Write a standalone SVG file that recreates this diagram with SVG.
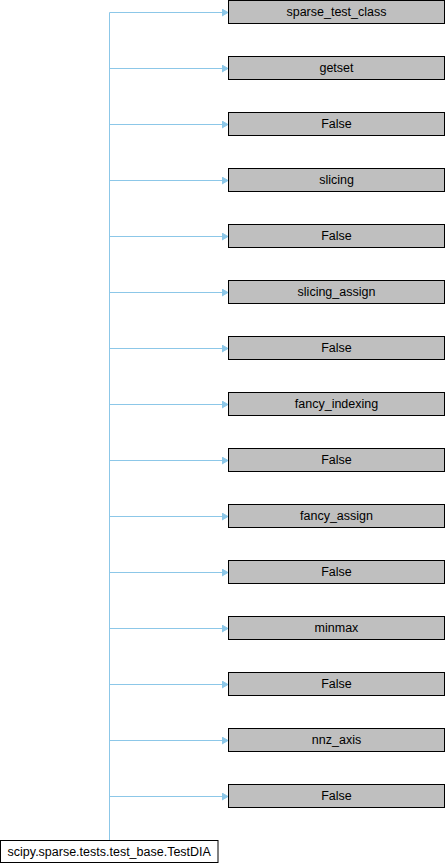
<svg xmlns="http://www.w3.org/2000/svg" width="446" height="864" viewBox="0 0 446 864">
<style>
.n rect{fill:#bfbfbf;stroke:#000;stroke-width:1}
.r rect{fill:#fff;stroke:#000;stroke-width:1}
text{font-family:"Liberation Sans",Arial,sans-serif;font-size:12.5px;text-anchor:middle;fill:#000}
.e path{fill:none;stroke:#8cc7e8;stroke-width:1}
</style>
<defs>
<marker id="a" markerWidth="6" markerHeight="8" refX="6" refY="4" orient="auto" markerUnits="userSpaceOnUse">
<path d="M0,0.5 L6,4 L0,7.5 Z" fill="#8cc7e8" stroke="#8cc7e8" stroke-width="1"/>
</marker>
</defs>
<g class="e" id="edges">
<path d="M109.5,840 V12.5"/>
<path d="M109.5,12.5 H228" marker-end="url(#a)"/>
<path d="M109.5,68.5 H228" marker-end="url(#a)"/>
<path d="M109.5,124.5 H228" marker-end="url(#a)"/>
<path d="M109.5,180.5 H228" marker-end="url(#a)"/>
<path d="M109.5,236.5 H228" marker-end="url(#a)"/>
<path d="M109.5,292.5 H228" marker-end="url(#a)"/>
<path d="M109.5,348.5 H228" marker-end="url(#a)"/>
<path d="M109.5,404.5 H228" marker-end="url(#a)"/>
<path d="M109.5,460.5 H228" marker-end="url(#a)"/>
<path d="M109.5,516.5 H228" marker-end="url(#a)"/>
<path d="M109.5,572.5 H228" marker-end="url(#a)"/>
<path d="M109.5,628.5 H228" marker-end="url(#a)"/>
<path d="M109.5,684.5 H228" marker-end="url(#a)"/>
<path d="M109.5,740.5 H228" marker-end="url(#a)"/>
<path d="M109.5,796.5 H228" marker-end="url(#a)"/>
</g>
<g class="n" id="n0"><rect x="228.5" y="0.5" width="216" height="23"/><text x="336.5" y="16">sparse_test_class</text></g>
<g class="n" id="n1"><rect x="228.5" y="56.5" width="216" height="23"/><text x="336.5" y="72">getset</text></g>
<g class="n" id="n2"><rect x="228.5" y="112.5" width="216" height="23"/><text x="336.5" y="128">False</text></g>
<g class="n" id="n3"><rect x="228.5" y="168.5" width="216" height="23"/><text x="336.5" y="184">slicing</text></g>
<g class="n" id="n4"><rect x="228.5" y="224.5" width="216" height="23"/><text x="336.5" y="240">False</text></g>
<g class="n" id="n5"><rect x="228.5" y="280.5" width="216" height="23"/><text x="336.5" y="296">slicing_assign</text></g>
<g class="n" id="n6"><rect x="228.5" y="336.5" width="216" height="23"/><text x="336.5" y="352">False</text></g>
<g class="n" id="n7"><rect x="228.5" y="392.5" width="216" height="23"/><text x="336.5" y="408">fancy_indexing</text></g>
<g class="n" id="n8"><rect x="228.5" y="448.5" width="216" height="23"/><text x="336.5" y="464">False</text></g>
<g class="n" id="n9"><rect x="228.5" y="504.5" width="216" height="23"/><text x="336.5" y="520">fancy_assign</text></g>
<g class="n" id="n10"><rect x="228.5" y="560.5" width="216" height="23"/><text x="336.5" y="576">False</text></g>
<g class="n" id="n11"><rect x="228.5" y="616.5" width="216" height="23"/><text x="336.5" y="632">minmax</text></g>
<g class="n" id="n12"><rect x="228.5" y="672.5" width="216" height="23"/><text x="336.5" y="688">False</text></g>
<g class="n" id="n13"><rect x="228.5" y="728.5" width="216" height="23"/><text x="336.5" y="744">nnz_axis</text></g>
<g class="n" id="n14"><rect x="228.5" y="784.5" width="216" height="23"/><text x="336.5" y="800">False</text></g>
<g class="r" id="root"><rect x="0.5" y="840.5" width="217.5" height="22"/><text x="109.25" y="855.5">scipy.sparse.tests.test_base.TestDIA</text></g>
</svg>
